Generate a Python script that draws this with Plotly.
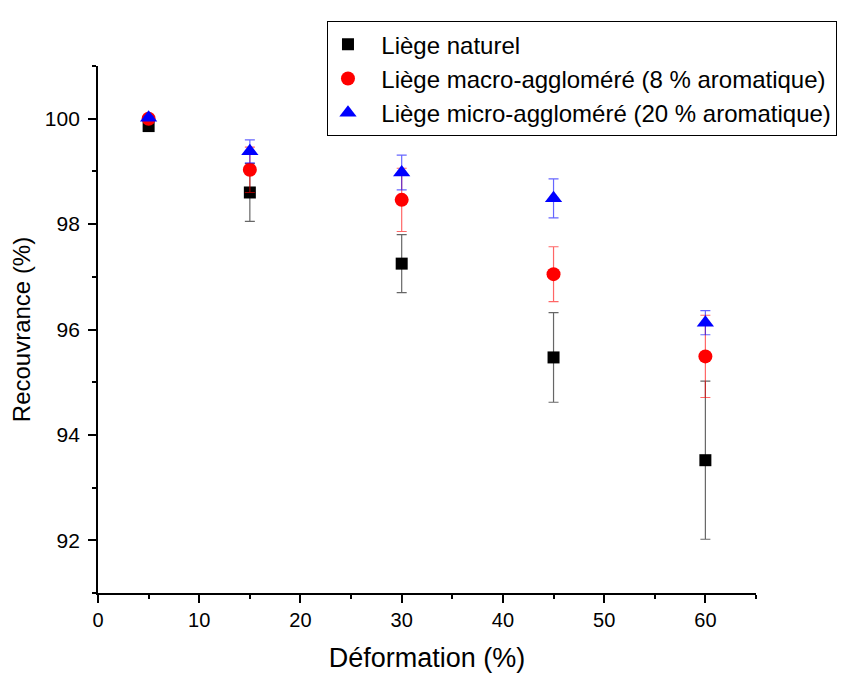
import plotly.graph_objects as go

# Déformation (%)
deformation = [5, 15, 30, 45, 60]

# Recouvrance (%) et écarts-types
naturel = [99.86, 98.60, 97.25, 95.47, 93.52]
naturel_err = [0.05, 0.55, 0.55, 0.85, 1.50]

macro = [100.0, 99.03, 98.46, 97.05, 95.49]
macro_err = [0.03, 0.43, 0.60, 0.52, 0.78]

micro = [100.02, 99.38, 98.98, 98.49, 96.13]
micro_err = [0.03, 0.22, 0.33, 0.37, 0.23]

series = [
    ("Liège naturel", naturel, naturel_err, "square", "black", "rgba(0,0,0,0.6)", 12),
    ("Liège macro-aggloméré (8 % aromatique)", macro, macro_err, "circle", "red", "rgba(255,0,0,0.6)", 14),
    ("Liège micro-aggloméré (20 % aromatique)", micro, micro_err, "triangle-up", "blue", "rgba(0,0,255,0.6)", 15),
]

fig = go.Figure()
for name, vals, err, sym, col, errcol, size in series:
    fig.add_trace(go.Scatter(
        x=deformation, y=vals, name="  " + name, mode="markers",
        marker=dict(symbol=sym, color=col, size=size, line=dict(width=0)),
        error_y=dict(type="data", array=err, visible=True, color=errcol,
                     thickness=1.2, width=5),
    ))

axis_common = dict(
    showline=True, linecolor="black", linewidth=1.5, mirror=False,
    ticks="outside", ticklen=8, tickwidth=1.5, tickcolor="black",
    showgrid=False, zeroline=False,
    minor=dict(ticks="outside", ticklen=4, tickwidth=1.5, tickcolor="black"),
)

fig.update_layout(
    width=858, height=675,
    margin=dict(l=90, r=110, t=58, b=90),
    plot_bgcolor="white", paper_bgcolor="white",
    font=dict(family="Liberation Sans, Arial", size=21, color="black"),
    xaxis=dict(
        range=[0, 65], dtick=10, tick0=0,
        title=dict(text="Déformation (%)", font=dict(size=27), standoff=18),
        tickfont=dict(size=20),
        **axis_common,
    ),
    yaxis=dict(
        range=[91, 101], dtick=2, tick0=92,
        title=dict(text="Recouvrance (%)", font=dict(size=24), standoff=8),
        ticksuffix="\u2009",
        **axis_common,
    ),
    legend=dict(
        x=0.348, y=1.085, xanchor="left", yanchor="top",
        bordercolor="black", borderwidth=1, bgcolor="white",
        font=dict(size=24), tracegroupgap=0,
    ),
    showlegend=True,
)
fig.update_xaxes(minor=dict(dtick=5))
fig.update_yaxes(minor=dict(dtick=1))

fig.write_html("out.html")
